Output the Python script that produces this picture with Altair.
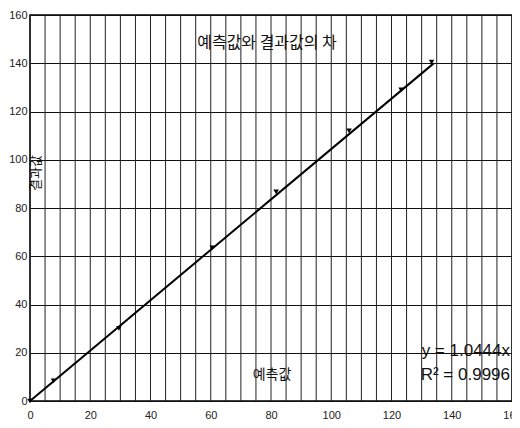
import altair as alt
import pandas as pd

# observed points (predicted, result)
pred_vals = [0, 7.8, 29.5, 60.5, 81.7, 105.9, 123.2, 133.3]
result_vals = [0, 8.3, 30.1, 63.5, 86.7, 112.0, 129.0, 140.5]

slope = 1.0444
fit_x = [0, 134]
fit_y = [slope * v for v in fit_x]

x_ticks = [0, 20, 40, 60, 80, 100, 120, 140, 160]
y_ticks = [0, 20, 40, 60, 80, 100, 120, 140, 160]
x_grid = list(range(0, 161, 5))

title_text = "예측값와 결과값의 차"
x_title = "예측값"
y_title = "결과값"
eq_text = "y = 1.0444x"
r2_text = "R² = 0.9996"

pts = pd.DataFrame({"x": pred_vals, "y": result_vals})
fit = pd.DataFrame({"x": fit_x, "y": fit_y})
vg = pd.DataFrame({"x": x_grid})

font = "Liberation Sans"
kfont = "Noto Sans CJK KR"

xs = alt.Scale(domain=[0, 160], nice=False, zero=False)
ys = alt.Scale(domain=[0, 160], nice=False, zero=False)

xaxis = alt.Axis(values=x_ticks, grid=False, ticks=False, domain=False,
                 labelFont=font, labelFontSize=11, labelColor="#222",
                 labelPadding=8, labelFlush=False, title=None)
yaxis = alt.Axis(values=y_ticks, grid=True, gridColor="#111", gridWidth=1,
                 gridOpacity=1, ticks=False, domain=False,
                 labelFont=font, labelFontSize=11, labelColor="#222",
                 labelPadding=3, labelFlush=False, title=None)

vgrid = alt.Chart(vg).mark_rule(color="#222", strokeWidth=1).encode(
    x=alt.X("x:Q", scale=xs, axis=xaxis)
)

line = alt.Chart(fit).mark_line(color="#000", strokeWidth=2).encode(
    x=alt.X("x:Q", scale=xs),
    y=alt.Y("y:Q", scale=ys, axis=yaxis),
)

points = alt.Chart(pts).mark_point(shape="triangle-down", filled=True,
                                   color="#000", size=30, opacity=1).encode(
    x=alt.X("x:Q", scale=xs),
    y=alt.Y("y:Q", scale=ys),
)

def label(text, px, py, size, fnt, align="center", angle=0):
    return alt.Chart(pd.DataFrame({"t": [text]})).mark_text(
        font=fnt, fontSize=size, color="#111", align=align,
        baseline="middle", angle=angle
    ).encode(x=alt.value(px), y=alt.value(py), text="t:N")

title = label(title_text, 237, 28, 16, kfont)
xt = label(x_title, 242, 360, 14, kfont)
yt = label(y_title, 6, 158, 13, kfont, angle=270)
eq = label(eq_text, 480, 336, 17, font, align="right")
r2 = label(r2_text, 480, 360, 17, font, align="right")

chart = alt.layer(vgrid, line, points, title, xt, yt, eq, r2).properties(
    width=482, height=386,
    autosize=alt.AutoSizeParams(type="none"),
    padding={"left": 22, "top": 7, "right": 0, "bottom": 18},
    background="white",
).configure_view(stroke="#000", strokeWidth=1.5)

chart.save("out.html", embed_options={"renderer": "svg", "actions": False})
